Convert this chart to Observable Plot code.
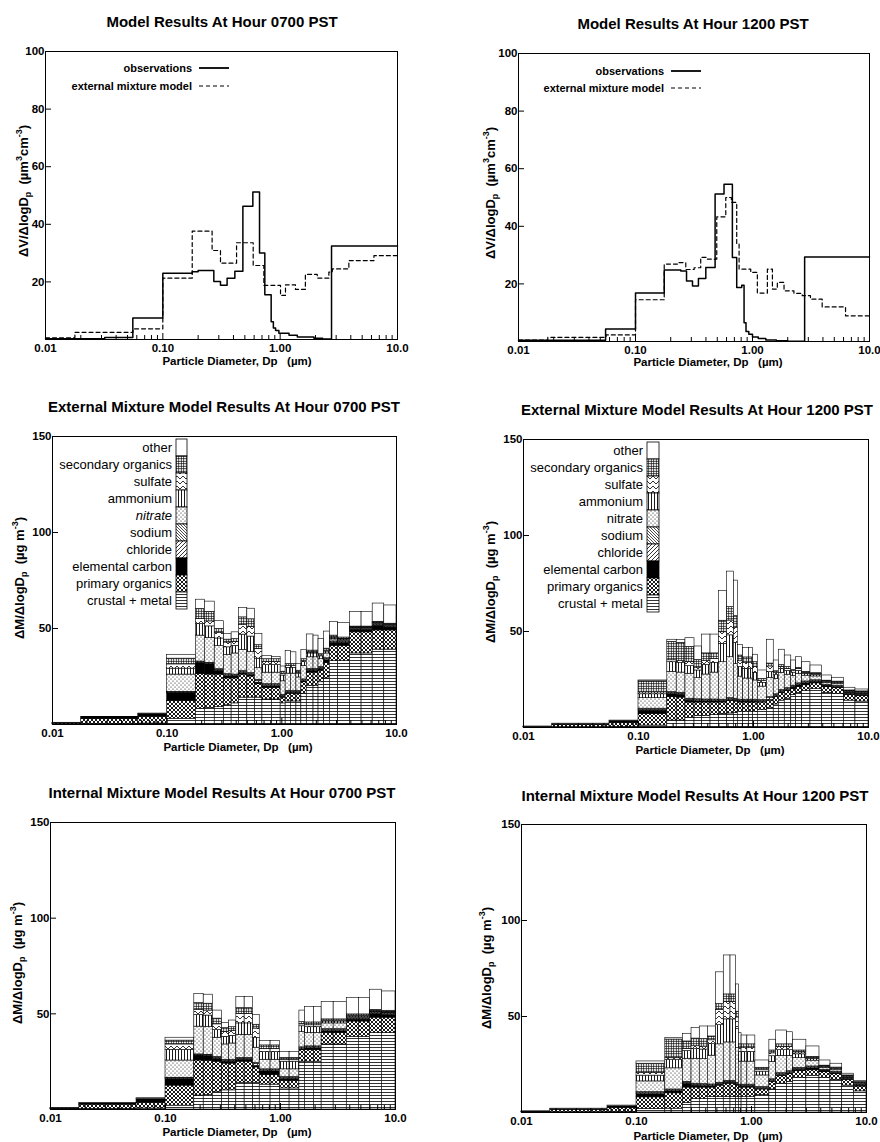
<!DOCTYPE html>
<html><head><meta charset="utf-8">
<script src="https://cdn.jsdelivr.net/npm/d3@7"></script>
<script src="https://cdn.jsdelivr.net/npm/@observablehq/plot@0.6"></script>
<style>
body{margin:0;background:#fff;}
#page{position:relative;width:880px;height:1142px;overflow:hidden;}
#page svg.panel{position:absolute;}
</style></head>
<body>
<svg width="0" height="0" style="position:absolute;left:0;top:0">
<defs>
<pattern id="pCrustal" patternUnits="userSpaceOnUse" width="4" height="3"><rect width="4" height="3" fill="white"/><line x1="0" y1="1.5" x2="4" y2="1.5" stroke="black" stroke-width="0.8"/></pattern>
<pattern id="pPorg" patternUnits="userSpaceOnUse" width="4" height="4"><rect width="4" height="4" fill="white"/><path d="M0,0L4,4M4,0L0,4" stroke="black" stroke-width="0.9"/></pattern>
<pattern id="pChl" patternUnits="userSpaceOnUse" width="4" height="4"><rect width="4" height="4" fill="white"/><path d="M-1,1L1,-1M0,4L4,0M3,5L5,3" stroke="black" stroke-width="0.8"/></pattern>
<pattern id="pNa" patternUnits="userSpaceOnUse" width="3" height="3"><rect width="3" height="3" fill="white"/><path d="M-1,2L1,4M0,0L3,3M2,-1L4,1" stroke="black" stroke-width="0.7"/></pattern>
<pattern id="pNit" patternUnits="userSpaceOnUse" width="4" height="4"><rect width="4" height="4" fill="white"/><circle cx="1" cy="1" r="0.55" fill="black"/><circle cx="3" cy="3" r="0.55" fill="black"/></pattern>
<pattern id="pAmm" patternUnits="userSpaceOnUse" width="3" height="3"><rect width="3" height="3" fill="white"/><line x1="1.5" y1="0" x2="1.5" y2="3" stroke="black" stroke-width="0.9"/></pattern>
<pattern id="pSulf" patternUnits="userSpaceOnUse" width="6" height="5"><rect width="6" height="5" fill="white"/><path d="M0,4L3,1L6,4" fill="none" stroke="black" stroke-width="0.8"/></pattern>
<pattern id="pSorg" patternUnits="userSpaceOnUse" width="2.5" height="2.5"><rect width="2.5" height="2.5" fill="white"/><path d="M0,1.25H2.5M1.25,0V2.5" stroke="black" stroke-width="0.7"/></pattern>
</defs></svg>
<div id="page"></div>
<script>
// ---------------- DATA ----------------
const xDomain = [0.01, 10];
const xTicks = [0.01, 0.1, 1, 10];
const xTickLabels = ["0.01", "0.10", "1.00", "10.0"];
const xMinorTicks = [0.02,0.03,0.04,0.05,0.06,0.07,0.08,0.09,0.2,0.3,0.4,0.5,0.6,0.7,0.8,0.9,2,3,4,5,6,7,8,9];
const volTicks = [20, 40, 60, 80, 100];
const massTicks = [50, 100, 150];

const components = ["crustal + metal","primary organics","elemental carbon","chloride","sodium","nitrate","ammonium","sulfate","secondary organics","other"];
const componentFills = ["url(#pCrustal)","url(#pPorg)","black","url(#pChl)","url(#pNa)","url(#pNit)","url(#pAmm)","url(#pSulf)","url(#pSorg)","white"];

// Volume distributions (step edges and values)
const obs0700Edges = [0.01,0.032,0.0555,0.1,0.178,0.2,0.272,0.31,0.353,0.411,0.481,0.585,0.667,0.74,0.838,0.875,0.914,0.975,1.19,1.4,1.94,2.3,2.74];
const obs0700Values = [0.3,0.7,7.5,23,23.5,24,20.1,18.8,21.3,23.7,46.3,51.2,30,15.5,6.2,4,3.1,2.2,1.5,0.9,0.4,0.15,32.5];
const extVol0700Edges = [0.01,0.0178,0.0556,0.1,0.178,0.263,0.31,0.425,0.589,0.726,1.007,1.11,1.35,1.64,2.07,2.6,2.78,3.85,6.3];
const extVol0700Values = [0.6,2.5,3.7,21.3,37.6,30.9,26.5,33.6,25.7,18.8,15.3,19,17.4,22.6,21.3,23.4,24.5,27.4,29.1];

const obs1200Edges = [0.01,0.0555,0.1,0.176,0.244,0.273,0.307,0.345,0.399,0.479,0.571,0.673,0.733,0.809,0.847,0.88,0.93,1.0,1.12,1.3,1.6,2.0,2.79];
const obs1200Values = [0.4,4.3,16.8,24.8,24.5,21,19.3,21.9,25.7,51.2,54.6,29.2,18.75,19.5,6.5,3.5,2.5,1.6,1,0.5,0.25,0.1,29.3];
const extVol1200Edges = [0.01,0.0178,0.056,0.1,0.176,0.229,0.269,0.317,0.361,0.412,0.495,0.591,0.66,0.733,0.768,0.966,1.1,1.34,1.48,1.63,1.86,2.26,2.66,3.13,3.94,6.24];
const extVol1200Values = [0.5,1.4,2.3,14.5,26.9,27.4,25,25.6,29.2,28.6,43.3,50,48.3,33.8,25.1,24,16.8,25.1,18.2,20.5,17.6,16.7,15.9,14.7,12,8.9];

// Mass distributions: bin edges and per-bin component values (order = components)
const extMass0700Edges = [0.01,0.0178,0.056,0.1,0.178,0.213,0.26,0.313,0.365,0.423,0.5,0.583,0.677,0.82,0.977,1.08,1.2,1.34,1.48,1.65,1.89,2.09,2.34,2.62,3.1,3.94,4.96,6.2,7.82,10];
const extMass0700 = [
 [0.2,0.3,0.3,0,0,0,0,0,0,0.1],
 [0.3,2.5,1.0,0,0,0,0,0,0,0.1],
 [0.5,3.5,1.3,0,0,0,0,0,0,0.4],
 [3,9.2,4.1,0.4,0.3,9,3.1,2.2,3,2],
 [8.2,18,6,0.3,0.3,13.5,6,2.6,5.3,4.8],
 [8.5,17.5,5.5,0.3,0.3,13,6,2.6,5,5.3],
 [9,17,2,0.5,0.3,12,4,3,2,4],
 [10,14,1.2,0.5,0.5,10,4,2.5,1.5,3],
 [11,13,1,0.5,0.5,11,4,2,1.5,3.5],
 [14,12,0.8,0.5,0.5,11,8,5,4,4.8],
 [14,11,0.8,0.5,0.5,11,8,5,4,5.5],
 [14,7,0.8,1,0.5,6,5,5,2,5.9],
 [13,6,1,0.5,0.5,6,4,1.5,1.5,1.6],
 [13,6,1,0.5,0.5,6,4,1.5,1.5,1.2],
 [11,3,0.5,0.5,0.5,7,3,1,1,2.7],
 [12,4,0.5,0.5,0.5,9,3,1,1,6.7],
 [12,4,0.5,0.5,0.5,9,3,1,1,6.1],
 [12,4,0.5,0.5,0.5,7,2,0.5,1,3.6],
 [16,6,0.5,0.5,0.5,7,2,0.5,1,4.9],
 [20,7,1,0.5,0.5,6,2,0.5,1,8.4],
 [20,7,1,0.5,0.5,6,2,0.5,1,7.8],
 [22,6,1,0.5,0.5,4,1.5,0.5,0.6,8],
 [24,8,1.5,0.5,0.5,2.5,1,0.5,1,8.9],
 [33,8,1.5,0.3,0.5,1,0.5,0.5,1,7],
 [33,8,1.5,0.3,0.5,0.5,0.5,0.3,0.7,7.5],
 [37,11,1,0.3,0.5,0.3,0.3,0.2,0.4,7.5],
 [37,11,1,0.3,0.5,0.3,0.3,0.2,0.4,7.5],
 [39,10,2.5,0.3,0.5,0.3,0.3,0.2,0.4,9.5],
 [39,10,1.5,0.3,0.5,0.3,0.3,0.2,0.4,9.5]
];

const extMass1200Edges = [0.01,0.0178,0.056,0.1,0.178,0.215,0.256,0.307,0.358,0.423,0.5,0.59,0.675,0.731,0.813,0.912,0.994,1.09,1.31,1.5,1.66,1.87,2.13,2.35,2.65,3.13,3.95,4.83,6.1,7.7,10];
const extMass1200 = [
 [0.1,0.2,0.1,0,0,0,0,0,0,0.1],
 [0.2,1.2,0.4,0,0,0,0,0,0,0.2],
 [0.3,2,0.9,0,0,0,0,0,0,0.4],
 [1,6,1.8,0.5,0.5,5.5,2,1,5.7,0.5],
 [3.6,12.2,1.7,0.5,0.5,10.5,5,1,9.6,1.1],
 [3.6,12,1.5,0.5,0.5,10.5,5,1,9.5,1.4],
 [5,8,1,0.5,0.5,13,4,2,8,4.5],
 [6,7,0.7,0.5,0.5,11,4,1.5,4,7],
 [6,7,0.6,0.5,0.5,13,5,2,4,9.8],
 [6.5,6.5,0.6,0.5,0.5,14,5,2,3,9.8],
 [7,6,0.5,0.5,0.5,19.5,9.6,6,6,15.4],
 [7.3,6.5,0.5,0.5,0.5,21.3,11.4,7.7,7,18.5],
 [7.5,6,0.5,0.5,0.5,18,11,8,6,18.5],
 [8,5,0.5,0.5,0.5,12,5,3,3,5.5],
 [8,5,0.5,0.5,0.5,11,5,3,3,5],
 [8,5,0.5,0.5,0.5,11,5,3,3,5],
 [8,5,0.5,0.5,0.5,10,4,3,2.5,3.9],
 [9,4,0.3,0.5,0.5,7,2,1,1,4.4],
 [10,4,0.3,1,0.5,10,3,3,1.5,12.4],
 [12,4,0.3,0.5,0.5,8,2,1,1,5.6],
 [14,4,0.5,0.5,0.5,9,2,1,1,8],
 [15,4,0.5,0.5,0.5,7,2,1,1,6],
 [17,3,0.8,0.5,0.5,5,1.5,1,0.6,5],
 [18,3,1,0.5,0.5,5,1.5,1,0.6,5.5],
 [19,3,1,0.5,0.5,3,1,0.5,0.5,5],
 [20,3,0.8,0.3,0.5,2,0.8,0.5,0.4,4],
 [18,3,0.5,0.3,0.5,1,0.5,0.3,0.3,2.7],
 [17.5,3,0.5,0.3,0.5,1,0.5,0.3,0.3,2],
 [14,3,0.5,0.3,0.3,0.5,0.3,0.2,0.2,1.4],
 [13.5,3,0.5,0.3,0.3,0.5,0.3,0.2,0.2,1]
];

const intMass0700Edges = [0.01,0.0178,0.056,0.1,0.178,0.215,0.258,0.31,0.357,0.413,0.488,0.578,0.66,0.82,0.986,1.2,1.46,1.63,1.95,2.28,2.9,3.77,4.8,6.02,7.62,10];
const intMass0700 = [
 [0.2,0.2,0.3,0,0,0,0,0,0,0.1],
 [0.3,2.2,0.8,0,0,0,0,0,0,0.2],
 [0.5,3,2,0,0,0,0,0,0,0.4],
 [2,10.5,3.5,0.3,0.3,9,5.6,2.8,2,1.5],
 [7.3,18.3,2.6,0.3,0.3,14.5,6.1,2.6,3.6,4.8],
 [7.5,18,2.5,0.3,0.3,14.5,6,2.6,3.6,4.7],
 [9,16,1.5,0.5,0.5,10,4,3,3,4.2],
 [10,14,1,0.5,0.5,8,4,2.5,2,2.8],
 [10,14,1,0.5,0.5,8.5,4,2.5,2,3.5],
 [14,11,1,0.5,0.5,12,6,5,3,5.7],
 [14,11,1,0.5,0.5,12,6,5,3,5.7],
 [14,8,0.8,1,0.5,8,5,5,2,5.2],
 [13,5,2,0.5,0.5,5,4,1.5,2,2.2],
 [13,5,2,0.5,0.5,5,4,1.5,2,2.2],
 [11,4,1,0.5,0.5,4,4,1,1,3],
 [11,4,1,0.5,0.5,4,4,1,1,3],
 [25,6,0.5,0.5,0.5,8,3,1,1.2,6],
 [25,6,1,0.5,0.5,7,3,1,1.5,8],
 [25,6,1,0.5,0.5,7,3,1,1.5,8],
 [34,6,1,0.5,0.5,3,1,0.5,0.6,9],
 [34,6,1,0.5,0.5,3,1,0.5,0.6,9],
 [38,8,1,0.3,0.5,0.5,0.5,0.3,0.6,8.5],
 [38,8,1,0.3,0.5,0.5,0.5,0.3,0.6,8.5],
 [40,8,2,0.3,0.5,0.3,0.3,0.2,0.5,10.5],
 [40,8,1.5,0.3,0.5,0.3,0.3,0.2,0.5,10.1]
];

const intMass1200Edges = [0.01,0.0178,0.056,0.1,0.178,0.253,0.301,0.355,0.417,0.493,0.574,0.657,0.736,0.776,0.82,0.92,1.08,1.43,1.64,2.04,2.3,3.0,3.9,4.86,6.15,7.76,10];
const intMass1200 = [
 [0.1,0.2,0.2,0,0,0,0,0,0,0.1],
 [0.2,1.2,0.4,0,0,0,0,0,0,0.2],
 [0.3,2,1,0,0,0,0,0,0,0.3],
 [1.9,6,1.7,0.5,0.5,5.6,3,1.5,4.7,1.2],
 [2,8,1,0.5,0.5,11,4.5,1,9.5,0.9],
 [5,8,2,0.5,0.5,12,4,1,4,4],
 [7,6,1,0.5,0.5,13,5,1.5,4,5.6],
 [7,6,0.8,0.5,0.5,13,5,1.5,4,6.5],
 [8,5,0.6,0.5,0.5,15,6,2,2,5.2],
 [8,6,0.5,0.5,0.5,20,10,8,3,16.5],
 [8,7,0.5,0.5,0.5,20,12,9,4,20.3],
 [8,7,0.5,0.5,0.5,20,12,9,4,20.3],
 [8,6,0.5,0.5,0.5,18,10,6,3,14.2],
 [8,5,0.5,0.5,0.5,12,5,2,2,5.8],
 [8,5,0.5,0.5,0.5,12,5,2,2,4.6],
 [8,5,0.5,0.5,0.5,12,5,2,2,4.6],
 [9,3,0.3,0.5,0.5,6,2,1,1,3.8],
 [12,4,0.3,0.5,0.5,9,3,1.5,1.5,5.6],
 [15,4,0.5,0.5,0.5,9,3,1.5,1.5,7.2],
 [16,4,0.5,0.5,0.5,8,3,1.5,1.5,6.3],
 [18,3.5,0.8,0.5,0.5,5,2,1,1,5.6],
 [19,3,1,0.5,0.5,3,1,0.5,0.5,5.4],
 [18,3,0.5,0.3,0.5,1,0.5,0.3,0.3,2.7],
 [17,3,0.5,0.3,0.5,1,0.5,0.3,0.3,2],
 [14,3,0.5,0.3,0.3,0.5,0.3,0.2,0.2,0.9],
 [11,2.5,0.5,0.3,0.3,0.5,0.3,0.2,0.2,0.5]
];

// ---------------- HELPERS ----------------
const FONT = '"Liberation Sans", Arial, Helvetica, sans-serif';
const xLabelOf = new Map(xTicks.map((t, i) => [t, xTickLabels[i]]));
const page = document.getElementById("page");

function stepPoints(edges, values) {
  const pts = edges.map((e, i) => ({x: e, y: values[i]}));
  pts.push({x: xDomain[1], y: values[values.length - 1]});
  return pts;
}
function massRows(edges, matrix) {
  const rows = [];
  matrix.forEach((bin, i) => bin.forEach((v, j) => rows.push({x1: edges[i], x2: edges[i + 1], comp: components[j], value: v})));
  return rows;
}
function addText(svg, x, y, str, o = {}) {
  return svg.append("text").attr("x", x).attr("y", y).text(str)
    .attr("font-family", FONT).attr("font-size", o.size || 11)
    .attr("font-weight", o.weight || "bold").attr("font-style", o.style || "normal")
    .attr("text-anchor", o.anchor || "middle").attr("dominant-baseline", o.baseline || "auto")
    .attr("fill", "black");
}
function yLabel(svg, cx, cy, parts) {
  const t = svg.append("text").attr("transform", `translate(${cx},${cy}) rotate(-90)`)
    .attr("text-anchor", "middle").attr("font-family", FONT).attr("font-size", 13)
    .attr("font-weight", "bold").attr("dominant-baseline", "middle").style("white-space", "pre");
  let shift = 0;
  for (const [s, kind] of parts) {
    const target = kind === "sub" ? 4 : kind === "sup" ? -5 : 0;
    t.append("tspan").attr("dy", target - shift).attr("font-size", kind === "n" ? 13 : 9).text(s);
    shift = target;
  }
}

function makePanel(cfg) {
  const plotW = cfg.width - cfg.ml - cfg.mr;
  const plotH = cfg.height - cfg.mt - cfg.mb;
  const node = Plot.plot({
    width: cfg.width, height: cfg.height,
    marginLeft: cfg.ml, marginRight: cfg.mr, marginTop: cfg.mt, marginBottom: cfg.mb,
    x: {type: "log", domain: xDomain},
    y: {domain: [0, cfg.yMax]},
    color: {domain: components, range: componentFills},
    style: {fontFamily: FONT, fontSize: "11px", fontWeight: "bold", background: "transparent", overflow: "visible", color: "black"},
    marks: [
      ...cfg.marks,
      Plot.frame({stroke: "black", strokeWidth: 1}),
      Plot.tickX(xMinorTicks, {x: d => d, insetTop: plotH - 4, stroke: "black"}),
      Plot.tickX(xTicks, {x: d => d, insetTop: plotH - 6, stroke: "black"}),
      Plot.tickY(cfg.yTicks, {y: d => d, insetRight: plotW - 6, stroke: "black"}),
      Plot.axisX({ticks: xTicks, tickFormat: d => xLabelOf.get(d), tickSize: 0, tickPadding: 4, label: null, fontSize: 11.5, fontWeight: "bold"}),
      Plot.axisY({ticks: cfg.yTicks, tickSize: 0, tickPadding: 1, label: null, fontSize: 11.5, fontWeight: "bold"})
    ]
  });
  node.classList.add("panel");
  node.style.left = cfg.left + "px";
  node.style.top = cfg.top + "px";
  page.appendChild(node);
  const svg = d3.select(node);
  addText(svg, cfg.titleX, cfg.titleY, cfg.title, {size: 15});
  addText(svg, cfg.xlabX, cfg.xlabY, "Particle Diameter, Dp\u00a0\u00a0\u00a0(\u00b5m)", {size: 11.5}).style("white-space", "pre");
  yLabel(svg, cfg.ylabX, cfg.ylabY, cfg.ylabParts);
  return svg;
}

const volLabel = [["\u0394V/\u0394logD", "n"], ["p", "sub"], ["\u00a0\u00a0(\u00b5m", "n"], ["3", "sup"], ["cm", "n"], ["-3", "sup"], [")", "n"]];
const massLabel = [["\u0394M/\u0394logD", "n"], ["p", "sub"], ["\u00a0\u00a0(\u00b5g m", "n"], ["-3", "sup"], [")", "n"]];

function volumePanel(cfg, obsE, obsV, modE, modV) {
  const svg = makePanel({...cfg, yMax: 100, yTicks: volTicks, ylabParts: volLabel, marks: [
    Plot.line(stepPoints(modE, modV), {x: "x", y: "y", curve: "step-after", stroke: "black", strokeWidth: 1.2, strokeDasharray: "4,3"}),
    Plot.line(stepPoints(obsE, obsV), {x: "x", y: "y", curve: "step-after", stroke: "black", strokeWidth: 1.5})
  ]});
  const lg = cfg.legend;
  addText(svg, lg.textX, lg.y1 + 4, "observations", {anchor: "end", size: 11});
  addText(svg, lg.textX, lg.y2 + 4, "external mixture model", {anchor: "end", size: 11});
  svg.append("line").attr("x1", lg.textX + 7).attr("x2", lg.textX + 37).attr("y1", lg.y1).attr("y2", lg.y1).attr("stroke", "black").attr("stroke-width", 1.8);
  svg.append("line").attr("x1", lg.textX + 7).attr("x2", lg.textX + 37).attr("y1", lg.y2).attr("y2", lg.y2).attr("stroke", "black").attr("stroke-width", 1.2).attr("stroke-dasharray", "4,3");
}

function massPanel(cfg, edges, matrix) {
  const svg = makePanel({...cfg, yMax: 150, yTicks: massTicks, ylabParts: massLabel, marks: [
    Plot.rectY(massRows(edges, matrix), {x1: "x1", x2: "x2", y: "value", fill: "comp", stroke: "black", strokeWidth: 0.6})
  ]});
  if (cfg.legend) {
    const lg = cfg.legend;
    const order = components.map((c, i) => i).reverse();
    order.forEach((ci, k) => {
      const y0 = lg.top + k * lg.h;
      svg.append("rect").attr("x", lg.x).attr("y", y0).attr("width", lg.w).attr("height", lg.h)
        .attr("fill", componentFills[ci]).attr("stroke", "black").attr("stroke-width", 0.8);
      addText(svg, lg.x - 4, y0 + lg.h / 2 + 4.5, components[ci], {anchor: "end", size: 13, weight: "normal",
        style: (lg.italic && components[ci] === "nitrate") ? "italic" : "normal"});
    });
  }
}

// ---------------- PANELS ----------------
volumePanel({left: 0, top: 0, width: 440, height: 380, ml: 45, mr: 43, mt: 51, mb: 41,
  title: "Model Results At Hour 0700 PST", titleX: 222, titleY: 27,
  xlabX: 237, xlabY: 365, ylabX: 25, ylabY: 191,
  legend: {textX: 192, y1: 68, y2: 86}}, obs0700Edges, obs0700Values, extVol0700Edges, extVol0700Values);

volumePanel({left: 440, top: 0, width: 440, height: 380, ml: 78, mr: 11, mt: 53, mb: 39,
  title: "Model Results At Hour 1200 PST", titleX: 253, titleY: 29,
  xlabX: 268, xlabY: 366, ylabX: 52, ylabY: 193,
  legend: {textX: 224, y1: 71, y2: 88}}, obs1200Edges, obs1200Values, extVol1200Edges, extVol1200Values);

massPanel({left: 0, top: 380, width: 440, height: 390, ml: 52, mr: 44, mt: 56, mb: 46,
  title: "External Mixture Model Results At Hour 0700 PST", titleX: 224, titleY: 32,
  xlabX: 238, xlabY: 371, ylabX: 21, ylabY: 198,
  legend: {x: 176, top: 59, w: 11, h: 17, italic: true}}, extMass0700Edges, extMass0700);

massPanel({left: 440, top: 380, width: 440, height: 390, ml: 83, mr: 12, mt: 59, mb: 43,
  title: "External Mixture Model Results At Hour 1200 PST", titleX: 257, titleY: 35,
  xlabX: 270, xlabY: 374, ylabX: 52, ylabY: 202,
  legend: {x: 207, top: 62, w: 12, h: 17}}, extMass1200Edges, extMass1200);

massPanel({left: 0, top: 770, width: 440, height: 372, ml: 50, mr: 45, mt: 52, mb: 33,
  title: "Internal Mixture Model Results At Hour 0700 PST", titleX: 222, titleY: 28,
  xlabX: 237, xlabY: 366, ylabX: 19, ylabY: 193}, intMass0700Edges, intMass0700);

massPanel({left: 440, top: 770, width: 440, height: 372, ml: 81, mr: 14, mt: 54, mb: 30,
  title: "Internal Mixture Model Results At Hour 1200 PST", titleX: 255, titleY: 31,
  xlabX: 268, xlabY: 370, ylabX: 48, ylabY: 198}, intMass1200Edges, intMass1200);
</script>
</body></html>
